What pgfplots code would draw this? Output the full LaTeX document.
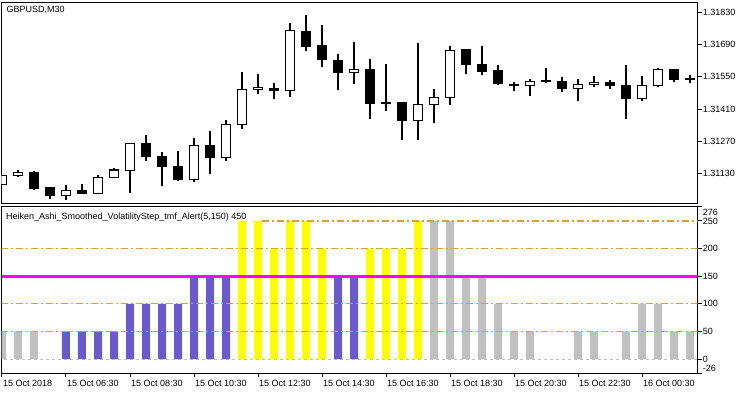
\documentclass[border=0pt]{standalone}
\usepackage{fontspec}
\setmainfont{Liberation Sans}
\usepackage{pgfplots}
\usepackage{pgfplotstable}
\pgfplotsset{compat=1.18}

\definecolor{hablue}{RGB}{106,90,205}
\definecolor{hagray}{RGB}{192,192,192}
\definecolor{halevel}{RGB}{225,160,30}
\definecolor{hayellow}{RGB}{255,255,0}
\definecolor{hamag}{RGB}{255,0,255}

% bullish (and doji) candles: k open high low close
\pgfplotstableread{
k O H L C
0 1.31085 1.31126 1.31085 1.31124
1 1.31123 1.31146 1.31117 1.31137
4 1.31034 1.31081 1.31016 1.31058
6 1.31045 1.31124 1.31045 1.31114
7 1.31114 1.31156 1.31114 1.31146
8 1.31143 1.31261 1.31045 1.31261
12 1.31104 1.31286 1.31095 1.31253
14 1.31201 1.31362 1.31186 1.31344
15 1.31344 1.31570 1.31325 1.31495
16 1.31495 1.31562 1.31475 1.31504
18 1.31491 1.31783 1.31462 1.31751
22 1.31569 1.31700 1.31520 1.31582
26 1.31359 1.31696 1.31276 1.31430
27 1.31430 1.31497 1.31351 1.31461
28 1.31459 1.31683 1.31429 1.31664
32 1.31514 1.31528 1.31489 1.31515
33 1.31513 1.31539 1.31468 1.31531
34 1.31531 1.31588 1.31521 1.31532
36 1.31498 1.31540 1.31446 1.31517
37 1.31517 1.31553 1.31504 1.31527
40 1.31455 1.31552 1.31446 1.31513
41 1.31511 1.31586 1.31504 1.31582
43 1.31540 1.31559 1.31521 1.31541
}\bull

% bearish candles
\pgfplotstableread{
k O H L C
2 1.31137 1.31140 1.31059 1.31065
3 1.31068 1.31073 1.31020 1.31036
5 1.31059 1.31085 1.31043 1.31043
9 1.31261 1.31297 1.31186 1.31203
10 1.31206 1.31222 1.31078 1.31160
11 1.31163 1.31228 1.31098 1.31104
13 1.31253 1.31315 1.31127 1.31199
17 1.31500 1.31521 1.31453 1.31489
19 1.31747 1.31817 1.31663 1.31680
20 1.31687 1.31774 1.31593 1.31624
21 1.31621 1.31648 1.31492 1.31567
23 1.31583 1.31627 1.31368 1.31433
24 1.31440 1.31605 1.31403 1.31433
25 1.31440 1.31440 1.31276 1.31359
29 1.31666 1.31671 1.31563 1.31602
30 1.31605 1.31683 1.31559 1.31572
31 1.31575 1.31601 1.31514 1.31521
35 1.31531 1.31547 1.31485 1.31498
38 1.31527 1.31536 1.31498 1.31511
39 1.31513 1.31601 1.31368 1.31455
42 1.31582 1.31582 1.31528 1.31540
}\bear

\pgfplotstableread{
k v
0 50
1 50
2 50
27 250
28 250
29 150
30 150
31 100
32 50
33 50
36 50
37 50
39 50
40 100
41 100
42 50
43 50
}\hgray

\pgfplotstableread{
k v
4 50
5 50
6 50
7 50
8 100
9 100
10 100
11 100
12 150
13 150
14 150
21 150
22 150
}\hblue

\pgfplotstableread{
k v
15 250
16 250
17 200
18 250
19 250
20 200
23 200
24 200
25 200
26 250
}\hyellow

\pgfplotsset{
  toppane/.style={scale only axis, width=696.2pt, height=201.7pt,
    at={(1.5pt,-2pt)}, anchor=north west,
    xmin=-0.031, xmax=43.48, ymin=0, ymax=874},
  wick/.style={draw=none, mark=none, error bars/.cd, y dir=minus, y explicit,
    error mark=none, error bar style={draw=black, line width=1.1pt}},
  level/.style={halevel, line width=1.2pt, dash pattern=on 7pt off 3pt on 2pt off 3pt},
}

\begin{document}
\begin{tikzpicture}[font=\fontsize{9pt}{10pt}\selectfont]
\useasboundingbox (0,0) rectangle (750pt,-394pt);

% ---- top pane: frame, price scale, wicks
\begin{axis}[toppane,
  axis line style={black, line width=1pt},
  xtick=\empty,
  ytick={130,270,410,550,690,830},
  yticklabels={1.31130,1.31270,1.31410,1.31550,1.31690,1.31830},
  ytick pos=right, tick align=outside, major tick length=4pt,
  every tick/.style={black, line width=1pt},
  yticklabel style={anchor=west, inner sep=0pt, xshift=1pt},
]
\addplot[wick] table[x=k, y expr=(\thisrow{H}-1.31)*100000,
        y error minus expr=(\thisrow{H}-\thisrow{L})*100000] {\bull};
\addplot[wick] table[x=k, y expr=(\thisrow{H}-1.31)*100000,
        y error minus expr=(\thisrow{H}-\thisrow{L})*100000] {\bear};
\end{axis}

% ---- bullish bodies
\begin{axis}[toppane, hide axis, ybar stacked, bar width=9.6pt]
\addplot[draw=none, fill=none] table[x=k, y expr=(\thisrow{O}-1.31)*100000] {\bull};
\addplot[draw=black, fill=white, line width=1.1pt] table[x=k, y expr=(\thisrow{C}-\thisrow{O})*100000] {\bull};
\end{axis}

% ---- bearish bodies
\begin{axis}[toppane, hide axis, ybar stacked, bar width=9.6pt]
\addplot[draw=none, fill=none] table[x=k, y expr=(\thisrow{C}-1.31)*100000] {\bear};
\addplot[draw=black, fill=black, line width=1.1pt] table[x=k, y expr=(\thisrow{O}-\thisrow{C})*100000] {\bear};
\end{axis}

% ---- bottom pane
\begin{axis}[name=bot, scale only axis, width=696.2pt, height=166.8pt,
  at={(1.5pt,-206.6pt)}, anchor=north west,
  xmin=-0.031, xmax=43.48, ymin=-26, ymax=276,
  axis line style={black, line width=1pt},
  every tick/.style={black, line width=1pt},
  tick align=outside, major tick length=4pt,
  xtick={0,4,8,12,16,20,24,28,32,36,40},
  xticklabels={15 Oct 2018,15 Oct 06:30,15 Oct 08:30,15 Oct 10:30,15 Oct 12:30,15 Oct 14:30,15 Oct 16:30,15 Oct 18:30,15 Oct 20:30,15 Oct 22:30,16 Oct 00:30},
  xtick pos=bottom,
  xticklabel style={anchor=north west, inner sep=0pt, xshift=1pt, yshift=-2.5pt},
  ytick={-26,0,50,100,150,200,250,276},
  yticklabels={,0,50,100,150,200,250,},
  ytick pos=right,
  yticklabel style={anchor=west, inner sep=0pt, xshift=1pt},
]
\addplot[hagray, line width=1pt, dash pattern=on 3pt off 3pt] coordinates {(-1,0) (44,0)};
\addplot[ybar, bar width=8pt, bar shift=0pt, fill=hagray, draw=none] table[x=k, y=v] {\hgray};
\addplot[ybar, bar width=8pt, bar shift=0pt, fill=hablue, draw=none] table[x=k, y=v] {\hblue};
\addplot[ybar, bar width=8pt, bar shift=0pt, fill=hayellow, draw=none] table[x=k, y=v] {\hyellow};
\addplot[level] coordinates {(-1,50) (44,50)};
\addplot[level] coordinates {(-1,100) (44,100)};
\addplot[level] coordinates {(-1,200) (44,200)};
\addplot[level] coordinates {(16.25,250) (44,250)};
\addplot[hamag, line width=3pt] coordinates {(-1,150) (44,150)};
\end{axis}

\node[anchor=west, inner sep=0pt] at ([xshift=5pt, yshift=-6pt]bot.north east) {276};
\node[anchor=west, inner sep=0pt] at ([xshift=5pt, yshift=5.4pt]bot.south east) {-26};
\node[anchor=west, inner sep=0pt] at (6.5pt,-9.7pt) {GBPUSD,M30};
\node[anchor=west, inner sep=0pt] at (6pt,-216.7pt) {Heiken\_Ashi\_Smoothed\_VolatilityStep\_tmf\_Alert(5,150) 450};
\end{tikzpicture}
\end{document}
